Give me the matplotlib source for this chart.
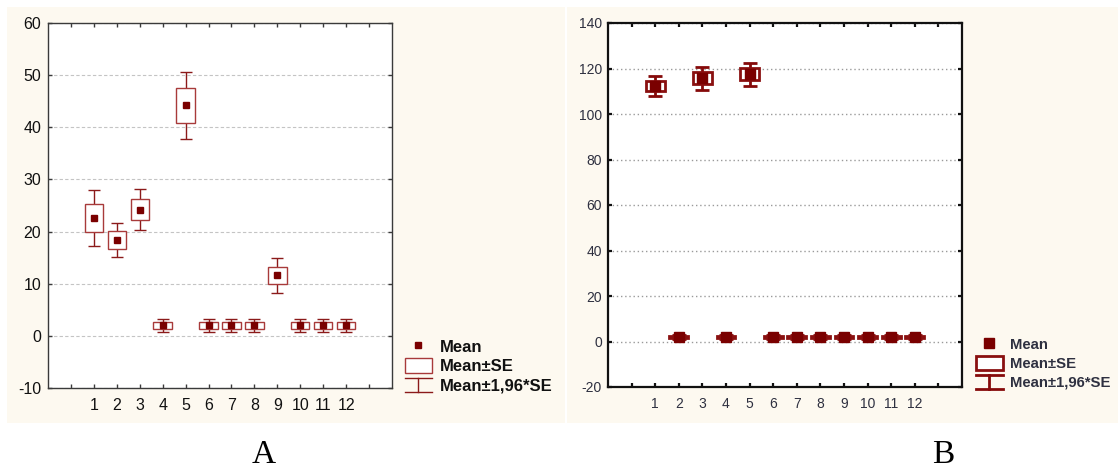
import matplotlib.pyplot as plt
from matplotlib.lines import Line2D
from matplotlib.patches import Rectangle
from matplotlib.legend_handler import HandlerBase

# Datos (media y error estandar por grupo)
grupos = [1, 2, 3, 4, 5, 6, 7, 8, 9, 10, 11, 12]
ticks_x = [0] + grupos + [13]
etiquetas_x = [''] + [str(g) for g in grupos] + ['']

media_a = [22.6, 18.4, 24.2, 2.0, 44.2, 2.0, 2.0, 2.0, 11.6, 2.0, 2.0, 2.0]
se_a = [2.7, 1.68, 2.0, 0.62, 3.3, 0.62, 0.62, 0.62, 1.68, 0.62, 0.62, 0.62]

media_b = [112.4, 2.0, 115.7, 2.0, 117.5, 2.0, 2.0, 2.0, 2.0, 2.0, 2.0, 2.0]
se_b = [2.2, 0.5, 2.6, 0.5, 2.6, 0.5, 0.5, 0.5, 0.5, 0.5, 0.5, 0.5]

yticks_a = [-10, 0, 10, 20, 30, 40, 50, 60]
yticks_b = [-20, 0, 20, 40, 60, 80, 100, 120, 140]

etiquetas_leyenda = ['Mean', 'Mean\u00b1SE', 'Mean\u00b11,96*SE']
k = 1.96

W, H = 1118, 468
crema = '#fdf9f0'
rojo_oscuro = '#7a0000'

plt.rcParams['font.family'] = ['Liberation Sans', 'DejaVu Sans']


class Bigote(HandlerBase):
    # simbolo de leyenda: barra con tapas arriba y abajo
    def create_artists(self, legend, orig_handle, xdescent, ydescent,
                       width, height, fontsize, trans):
        c = orig_handle.get_color()
        lw = orig_handle.get_linewidth()
        x0, y0 = -xdescent, -ydescent
        arriba = Line2D([x0, x0 + width], [y0 + height, y0 + height], color=c, lw=lw)
        abajo = Line2D([x0, x0 + width], [y0, y0], color=c, lw=lw)
        vert = Line2D([x0 + width / 2, x0 + width / 2], [y0, y0 + height], color=c, lw=lw)
        for a in (arriba, abajo, vert):
            a.set_transform(trans)
        return [arriba, abajo, vert]


def px(l, t, r, b):
    return [l / W, (H - b) / H, (r - l) / W, (b - t) / H]


fig = plt.figure(figsize=(W / 100, H / 100), dpi=100)
fig.patch.set_facecolor('white')
fig.add_artist(Rectangle((7 / W, (H - 423) / H), (565 - 7) / W, (423 - 7) / H,
                         transform=fig.transFigure, fc=crema, ec='none', zorder=0))
fig.add_artist(Rectangle((567 / W, (H - 423) / H), (W - 567) / W, (423 - 7) / H,
                         transform=fig.transFigure, fc=crema, ec='none', zorder=0))


def panel(rect, media, se, yticks, ylim, estilo):
    ax = fig.add_axes(rect)
    ax.set_facecolor('white')
    abajo = [m - s for m, s in zip(media, se)]
    alto = [2 * s for s in se]
    bigote = [k * s for s in se]
    ax.errorbar(grupos, media, yerr=bigote, fmt='none', ecolor=estilo['bigote'],
                elinewidth=estilo['lw'], capsize=estilo['cap'], capthick=estilo['lw'], zorder=3)
    ax.bar(grupos, alto, bottom=abajo, width=estilo['ancho'], color='white',
           edgecolor=estilo['caja'], linewidth=estilo['lw'], zorder=4)
    ax.plot(grupos, media, ls='none', marker='s', ms=estilo['ms'], color=rojo_oscuro,
            mec=rojo_oscuro, zorder=5)

    ax.set_xlim(-1, 14)
    ax.set_ylim(*ylim)
    ax.set_xticks(ticks_x)
    ax.set_xticklabels(etiquetas_x)
    ax.set_yticks(yticks)
    ax.set_yticklabels([str(v) for v in yticks])
    ax.tick_params(direction='in', top=True, right=True, length=3,
                   width=estilo['spine_lw'], color=estilo['spine'],
                   labelsize=estilo['fs_ticks'], labelcolor=estilo['texto'])
    ax.tick_params(axis='x', pad=estilo['pad_x'])
    ax.tick_params(axis='y', pad=estilo['pad_y'])
    ax.set_axisbelow(True)
    ax.yaxis.grid(True, ls=estilo['grid_ls'], color=estilo['grid'], lw=estilo['grid_lw'])
    for s in ax.spines.values():
        s.set_color(estilo['spine'])
        s.set_linewidth(estilo['spine_lw'])

    manijas = [
        Line2D([], [], ls='none', marker='s', ms=estilo['ms'], color=rojo_oscuro),
        Rectangle((0, 0), 1, 1, fc='white', ec=estilo['caja'], lw=estilo['lw']),
        Line2D([], [], color=estilo['bigote'], lw=estilo['lw']),
    ]
    leg = ax.legend(manijas, etiquetas_leyenda, loc='upper left',
                    bbox_to_anchor=estilo['leg_pos'], bbox_transform=fig.transFigure,
                    frameon=False, borderpad=0, borderaxespad=0,
                    handlelength=estilo['hl'], handleheight=estilo['hh'],
                    handletextpad=0.5, labelspacing=estilo['ls'],
                    prop={'weight': 'bold', 'size': estilo['fs_leg']},
                    handler_map={manijas[2]: Bigote()})
    for t in leg.get_texts():
        t.set_color(estilo['texto'])
    return ax


estilo_a = dict(bigote='#8b1a1a', caja='#a83a3a', lw=1.0, cap=4.6, ancho=0.8, ms=5,
                spine='#3a3a3a', spine_lw=1.0, fs_ticks=11.5, texto='#111111',
                pad_x=7, pad_y=5, grid_ls=(0, (3, 2)), grid='#c4c4c4', grid_lw=0.8,
                leg_pos=(404.5 / W, (H - 339) / H), hl=1.62, hh=0.96, ls=0.2, fs_leg=12)
estilo_b = dict(bigote='#850a0a', caja='#8a1010', lw=2.0, cap=4.8, ancho=0.8, ms=6.5,
                spine='#111111', spine_lw=1.6, fs_ticks=10, texto='#2e3040',
                pad_x=7, pad_y=4.3, grid_ls=(0, (1, 2)), grid='#9a9a9a', grid_lw=1.0,
                leg_pos=(976 / W, (H - 337) / H), hl=1.8, hh=1.07, ls=0.25, fs_leg=10.7)

panel(px(48, 23, 392, 388), media_a, se_a, yticks_a, (-10, 60), estilo_a)
panel(px(608, 23, 962, 387), media_b, se_b, yticks_b, (-20, 140), estilo_b)

fig.text(264 / W, (H - 455) / H, 'A', ha='center', va='center', fontsize=24,
         family=['Liberation Serif', 'DejaVu Serif'])
fig.text(943 / W, (H - 455) / H, 'B', ha='center', va='center', fontsize=24,
         family=['Liberation Serif', 'DejaVu Serif'])

fig.savefig('out.png', dpi=100, facecolor='white')
